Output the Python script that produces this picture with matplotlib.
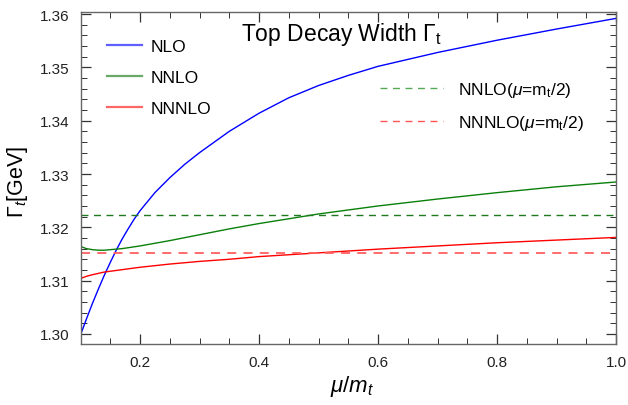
import matplotlib
matplotlib.use("Agg")
import matplotlib.pyplot as plt
from matplotlib.ticker import MultipleLocator

plt.rcParams['font.family'] = ['Liberation Sans', 'DejaVu Sans']
plt.rcParams['mathtext.fontset'] = 'custom'
plt.rcParams['mathtext.rm'] = 'Liberation Sans'
plt.rcParams['mathtext.it'] = 'Liberation Sans:italic'
plt.rcParams['mathtext.bf'] = 'Liberation Sans:bold'

# values
mu_nlo = [0.10, 0.11, 0.12, 0.13, 0.14, 0.15, 0.16, 0.17, 0.18, 0.19, 0.20, 0.225,
          0.25, 0.275, 0.30, 0.35, 0.40, 0.45, 0.50, 0.55, 0.60, 0.70, 0.80, 0.90, 1.00]
gamma_nlo = [1.2998, 1.3028, 1.3057, 1.3084, 1.3110, 1.3134, 1.3157, 1.3178, 1.3197,
             1.3215, 1.3231, 1.3265, 1.3293, 1.3318, 1.3340, 1.3380, 1.3414, 1.3443,
             1.3466, 1.3485, 1.3502, 1.3528, 1.3551, 1.3572, 1.3592]

mu_nnlo = [0.10, 0.11, 0.12, 0.13, 0.14, 0.15, 0.17, 0.20, 0.25, 0.30, 0.35, 0.40,
           0.45, 0.50, 0.60, 0.70, 0.80, 0.90, 1.00]
gamma_nnlo = [1.3164, 1.3160, 1.3158, 1.3157, 1.3157, 1.3158, 1.3160, 1.3165, 1.3175,
              1.3186, 1.3197, 1.3207, 1.3216, 1.3225, 1.3240, 1.3253, 1.3265, 1.3276,
              1.3285]

mu_nnnlo = [0.10, 0.11, 0.12, 0.14, 0.16, 0.20, 0.25, 0.30, 0.35, 0.40, 0.50, 0.60,
            0.70, 0.80, 0.90, 1.00]
gamma_nnnlo = [1.3104, 1.3108, 1.3111, 1.3116, 1.3119, 1.3125, 1.3131, 1.3136, 1.3140,
               1.3145, 1.3152, 1.3159, 1.3165, 1.3171, 1.3176, 1.3181]

nnlo_half = 1.3223
nnnlo_half = 1.3152

fig = plt.figure(figsize=(6.28, 4.06), dpi=100)
ax = fig.add_axes([80.5 / 628, 1 - 345 / 406, (616 - 80.5) / 628, (345 - 13) / 406])

l1, = ax.plot(mu_nlo, gamma_nlo, color='#0000ff', lw=1.0)
l2, = ax.plot(mu_nnlo, gamma_nnlo, color='#0a800a', lw=1.0)
l3, = ax.plot(mu_nnnlo, gamma_nnnlo, color='#ff0000', lw=1.0)
d1 = ax.axhline(nnlo_half, color='#1f7a1f', lw=1.0, dashes=(5, 4))
d2 = ax.axhline(nnnlo_half, color='#ff6060', lw=1.3, dashes=(5, 4))

ax.set_xlim(0.1, 1.0)
ax.set_ylim(1.2981, 1.3604)
ax.xaxis.set_major_locator(MultipleLocator(0.2))
ax.xaxis.set_minor_locator(MultipleLocator(0.05))
ax.yaxis.set_major_locator(MultipleLocator(0.01))
ax.yaxis.set_minor_locator(MultipleLocator(0.002))
ax.xaxis.set_major_formatter(plt.FuncFormatter(lambda v, p: '%.1f' % v if v > 0.15 else ''))
ax.yaxis.set_major_formatter(plt.FuncFormatter(lambda v, p: '%.2f' % v))

for s in ax.spines.values():
    s.set_color('#666666')
    s.set_linewidth(1.0)
ax.tick_params(which='both', direction='in', top=True, right=True, color='#333333',
               labelsize=11, labelcolor='#222222')
ax.tick_params(which='major', length=7, width=0.9, pad=8)
ax.tick_params(which='minor', length=4, width=0.7)

fig.text(342 / 628, 1 - 35 / 406, r'Top Decay Width $\Gamma_{\mathrm{t}}$', fontsize=16.5,
         ha='center', va='center')
fig.text(18 / 628, 1 - 182 / 406, r'$\Gamma_t$[GeV]', fontsize=15.5, rotation=90,
         ha='center', va='center')
fig.text(352 / 628, 1 - 387 / 406, r'$\mu/m_t$', fontsize=16, ha='center', va='center')

# legend samples are drawn lighter in the reference
h1, = ax.plot([], [], color='#6060ff', lw=1.6)
h2, = ax.plot([], [], color='#66aa66', lw=1.6)
h3, = ax.plot([], [], color='#ff6666', lw=1.6)
h4, = ax.plot([], [], color='#55aa55', lw=1.0, dashes=(5, 4))
h5, = ax.plot([], [], color='#ff5555', lw=1.0, dashes=(5, 4))

leg1 = ax.legend([h1, h2, h3], ['NLO', 'NNLO', 'NNNLO'], loc='upper left',
                 bbox_to_anchor=(107 / 628, 1 - 40 / 406), bbox_transform=fig.transFigure,
                 frameon=False, fontsize=12.5, borderpad=0, borderaxespad=0,
                 handlelength=2.0, handletextpad=0.5, labelspacing=0.9)
ax.add_artist(leg1)
ax.legend([h4, h5], [r'NNLO($\mu$=m$_{\mathrm{t}}$/2)', r'NNNLO($\mu$=m$_{\mathrm{t}}$/2)'],
          loc='upper left', bbox_to_anchor=(380 / 628, 1 - 81 / 406),
          bbox_transform=fig.transFigure, frameon=False, fontsize=12.5, borderpad=0,
          borderaxespad=0, handlelength=3.6, handletextpad=0.9, labelspacing=0.8)

fig.savefig('out.png', dpi=100)
